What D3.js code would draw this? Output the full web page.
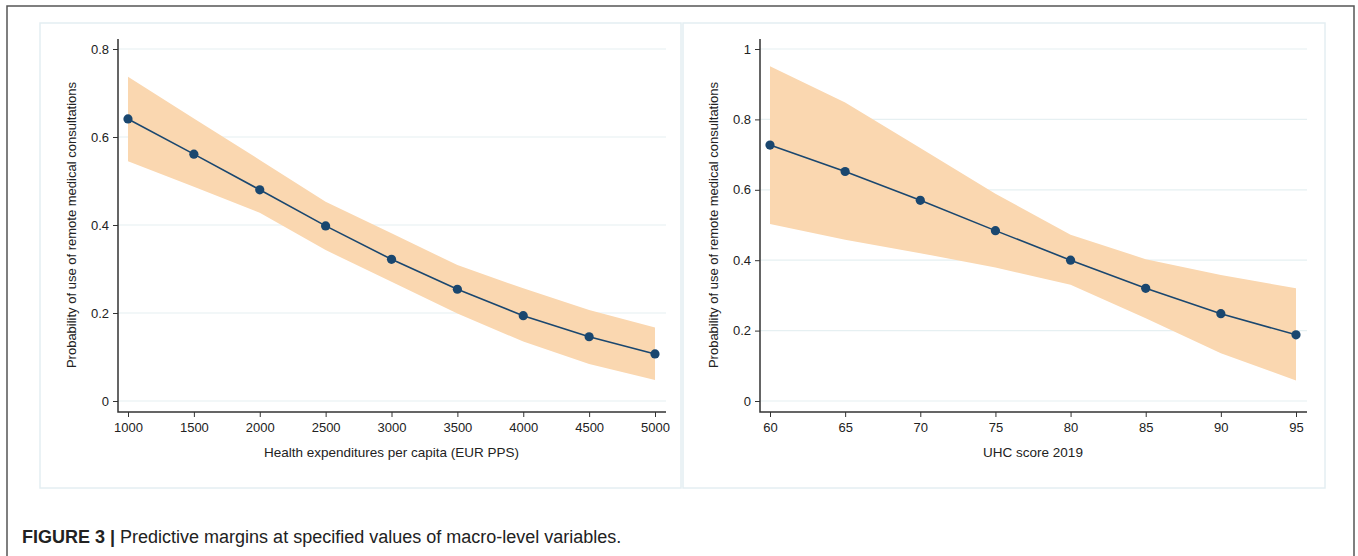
<!DOCTYPE html>
<html>
<head>
<meta charset="utf-8">
<script src="https://cdn.jsdelivr.net/npm/d3@7"></script>
<style>
  body { margin: 0; background: #fff; }
  svg { display: block; font-family: "Liberation Sans", Arial, sans-serif; }
  .tick text { font-size: 13px; fill: #222; }
</style>
</head>
<body>
<div id="chart"></div>
<script>
// predictive margins, left panel: health expenditures per capita
const expLevels = [1000, 1500, 2000, 2500, 3000, 3500, 4000, 4500, 5000];
const expMargin = [0.641, 0.561, 0.480, 0.398, 0.322, 0.254, 0.194, 0.146, 0.107];
const expLower  = [0.545, 0.487, 0.428, 0.343, 0.271, 0.199, 0.135, 0.084, 0.048];
const expUpper  = [0.737, 0.642, 0.548, 0.453, 0.381, 0.309, 0.256, 0.207, 0.167];
const expTicksX = [1000, 1500, 2000, 2500, 3000, 3500, 4000, 4500, 5000];
const expTicksY = [0, 0.2, 0.4, 0.6, 0.8];

// right panel: UHC score 2019
const uhcLevels = [60, 65, 70, 75, 80, 85, 90, 95];
const uhcMargin = [0.727, 0.652, 0.570, 0.484, 0.400, 0.320, 0.248, 0.188];
const uhcLower  = [0.503, 0.458, 0.420, 0.379, 0.330, 0.235, 0.136, 0.058];
const uhcUpper  = [0.951, 0.848, 0.719, 0.589, 0.472, 0.403, 0.358, 0.320];
const uhcTicksX = [60, 65, 70, 75, 80, 85, 90, 95];
const uhcTicksY = [0, 0.2, 0.4, 0.6, 0.8, 1];

const yTitle = 'Probability of use of remote medical consultations';

const W = 1358, H = 556;
const navy = '#1a476f';
const band = '#fad7b0';

const svg = d3.select('#chart').append('svg')
  .attr('width', W)
  .attr('height', H);

// outer frame
svg.append('rect')
  .attr('x', 7).attr('y', 6)
  .attr('width', 1347).attr('height', 570)
  .attr('fill', 'none')
  .attr('stroke', '#555')
  .attr('stroke-width', 1.5);

function drawPanel(p) {
  const g = svg.append('g');

  // panel background
  g.append('rect')
    .attr('x', p.box[0]).attr('y', p.box[1])
    .attr('width', p.box[2]).attr('height', p.box[3])
    .attr('fill', '#fff')
    .attr('stroke', '#e4eef2')
    .attr('stroke-width', 1.5);

  const x = d3.scaleLinear().domain(p.xDomain).range(p.xRange);
  const y = d3.scaleLinear().domain(p.yDomain).range([401, 49]);

  const left = p.xRange[0] - 10, right = p.xRange[1] + 11;
  const bottom = 412;

  // grid lines
  g.append('g')
    .selectAll('line')
    .data(p.ticksY)
    .join('line')
    .attr('x1', left).attr('x2', right)
    .attr('y1', d => y(d)).attr('y2', d => y(d))
    .attr('stroke', '#e6f0f2')
    .attr('stroke-width', 1.2);

  // confidence band
  const rows = p.levels.map((v, i) => ({ v, m: p.margin[i], lo: p.lower[i], hi: p.upper[i] }));
  g.append('path')
    .datum(rows)
    .attr('fill', band)
    .attr('d', d3.area().x(d => x(d.v)).y0(d => y(d.lo)).y1(d => y(d.hi)));

  // margins line + points
  g.append('path')
    .datum(rows)
    .attr('fill', 'none')
    .attr('stroke', navy)
    .attr('stroke-width', 1.6)
    .attr('d', d3.line().x(d => x(d.v)).y(d => y(d.m)));

  g.selectAll('.pt')
    .data(rows)
    .join('circle')
    .attr('class', 'pt')
    .attr('cx', d => x(d.v))
    .attr('cy', d => y(d.m))
    .attr('r', 4.6)
    .attr('fill', navy);

  // axes
  const xAxis = g.append('g')
    .attr('transform', `translate(0,${bottom})`)
    .call(d3.axisBottom(x).tickValues(p.ticksX).tickFormat(d3.format('d'))
      .tickSize(5).tickSizeOuter(0).tickPadding(6));
  xAxis.select('.domain').remove();
  xAxis.selectAll('.tick line').attr('stroke', '#333');

  const yAxis = g.append('g')
    .attr('transform', `translate(${left},0)`)
    .call(d3.axisLeft(y).tickValues(p.ticksY).tickFormat(d3.format('~g'))
      .tickSize(5).tickSizeOuter(0).tickPadding(4));
  yAxis.select('.domain').remove();
  yAxis.selectAll('.tick line').attr('stroke', '#333');

  // axis lines meet at the corner
  g.append('path')
    .attr('d', `M${left},39V${bottom}H${right}`)
    .attr('fill', 'none')
    .attr('stroke', '#333')
    .attr('stroke-width', 1.5);

  // titles
  g.append('text')
    .attr('x', (p.xRange[0] + p.xRange[1]) / 2)
    .attr('y', 457)
    .attr('text-anchor', 'middle')
    .attr('font-size', 13.5)
    .attr('fill', '#222')
    .text(p.xTitle);

  g.append('text')
    .attr('transform', `translate(${p.yTitleX},225) rotate(-90)`)
    .attr('text-anchor', 'middle')
    .attr('font-size', 13)
    .attr('fill', '#222')
    .text(yTitle);
}

drawPanel({
  box: [40, 23, 641, 465],
  xDomain: [1000, 5000], xRange: [128, 655], yDomain: [0, 0.8],
  levels: expLevels, margin: expMargin, lower: expLower, upper: expUpper,
  ticksX: expTicksX, ticksY: expTicksY,
  xTitle: 'Health expenditures per capita (EUR PPS)', yTitleX: 76
});

drawPanel({
  box: [683, 23, 642, 465],
  xDomain: [60, 95], xRange: [770, 1296], yDomain: [0, 1],
  levels: uhcLevels, margin: uhcMargin, lower: uhcLower, upper: uhcUpper,
  ticksX: uhcTicksX, ticksY: uhcTicksY,
  xTitle: 'UHC score 2019', yTitleX: 718
});

// caption
const cap = svg.append('text')
  .attr('x', 22).attr('y', 543)
  .attr('font-family', '"Liberation Sans Narrow", "Liberation Sans", Arial, sans-serif')
  .attr('font-size', 18)
  .attr('fill', '#222');
cap.append('tspan').attr('font-weight', 'bold').text('FIGURE 3 | ');
cap.append('tspan').text('Predictive margins at specified values of macro-level variables.');
</script>
</body>
</html>
